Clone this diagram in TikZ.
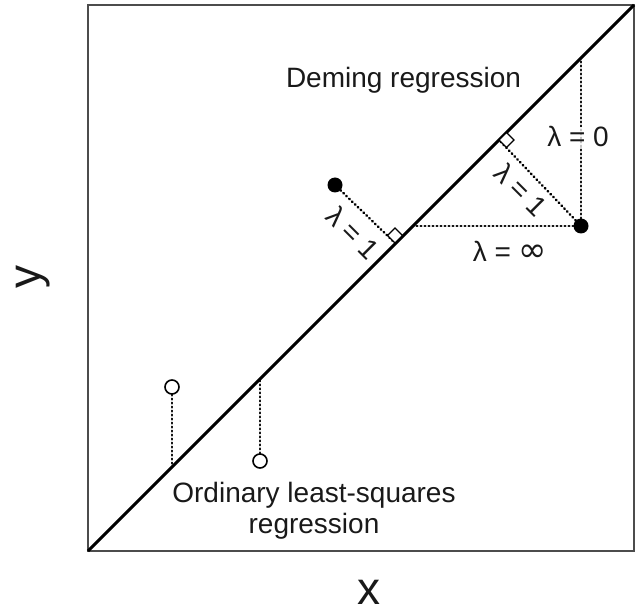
\documentclass[tikz,border=0pt]{standalone}
\usepackage{fontspec}
\setmainfont{Liberation Sans}
\newfontfamily\symfont{DejaVu Sans}
\begin{document}
\begin{tikzpicture}[x=1pt,y=-1pt,
  lab/.style={font=\fontsize{28}{32}\selectfont, inner sep=0pt, text=black!90},
  axlab/.style={font=\fontsize{46}{50}\selectfont, inner sep=0pt, text=black!90},
  dotline/.style={line width=2.6pt, line cap=round, dash pattern=on 0.6pt off 3.4pt},
  fulldot/.style={circle, fill=black, minimum size=15pt, inner sep=0pt},
  opendot/.style={circle, draw=black, fill=white, line width=1.6pt, minimum size=14pt, inner sep=0pt},
  rightmark/.style={draw=black, fill=white, line width=1.3pt}]
\useasboundingbox (0,0) rectangle (643,612);
% frame and regression line
\coordinate (BL) at (88,551);
\coordinate (TR) at (634,5);
\draw[black!70, line width=2pt] (88,5) rectangle (634,551);
\draw[line width=3pt] (BL) -- (TR);
% feet on the line
\coordinate (F1) at (395,243);
\coordinate (F2) at (499,140);
\coordinate (H2) at (413,226);
\coordinate (V2) at (581,58);
\coordinate (G1) at (172,467);
\coordinate (G2) at (260,379);
% points
\node[fulldot] (p1) at (335,185) {};
\node[fulldot] (p2) at (581,226) {};
\node[opendot] (o1) at (172,387) {};
\node[opendot] (o2) at (260,461) {};
% dotted connectors
\draw[dotline] (p1) -- (F1);
\draw[dotline] (p2) -- (F2);
\draw[dotline] (p2) -- (H2);
\draw[dotline] (p2) -- (V2);
\draw[dotline] (o1) -- (G1);
\draw[dotline] (o2) -- (G2);
% right-angle marks
\draw[rightmark] (F1) -- ++(7.5,-7.5) -- ++(-7.5,-7.5) -- ++(-7.5,7.5) -- cycle;
\draw[rightmark] (F2) -- ++(7.5,-7.5) -- ++(7.5,7.5) -- ++(-7.5,7.5) -- cycle;
% labels
\node[lab, anchor=base] (deming) at (403.5,88) {Deming regression};
\node[lab, anchor=base] (ols1) at (314,502) {Ordinary least-squares};
\node[lab, anchor=base] (ols2) at (314,533) {regression};
\node[lab, anchor=base, fill=white, fill opacity=0.75, text opacity=1] (l0) at (578,147) {λ = 0};
\node[lab, anchor=base] (linf) at (510,262) {λ = {\symfont\fontsize{34}{34}\selectfont ∞}};
\node[lab, rotate=-45] (l1a) at (353,233) {λ = 1};
\node[lab, rotate=-45] (l1b) at (521,190) {λ = 1};
\node[axlab, rotate=90] (ylab) at (33,277) {y};
\node[axlab] (xlab) at (369,592) {x};
\end{tikzpicture}
\end{document}
